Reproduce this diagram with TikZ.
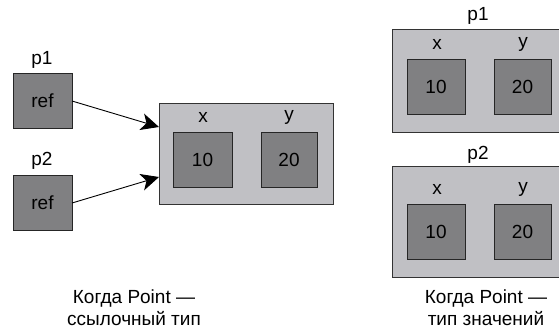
\documentclass[tikz,border=0pt]{standalone}
\usepackage{fontspec}
\setmainfont{Liberation Sans}
\usetikzlibrary{arrows.meta}
\definecolor{outerc}{RGB}{192,192,196}
\definecolor{innerc}{RGB}{128,128,130}
\begin{document}
\begin{tikzpicture}[x=1pt,y=-1pt,
  txt/.style={inner sep=0pt,font=\fontsize{19}{22}\selectfont},
  outerbox/.style={draw=black!80,fill=outerc,line width=0.9pt},
  innerbox/.style={draw=black!85,fill=innerc,line width=0.9pt},
  arr/.style={-{Stealth[length=18pt,width=17pt,inset=5pt]},line width=0.9pt}]
\useasboundingbox (0,0) rectangle (559,332);
% left references
\node[txt] (lp1) at (42,60) {p1};
\draw[innerbox] (13,73) rectangle (72,128);
\node[txt] (lr1) at (42.5,100.5) {ref};
\node[txt] (lp2) at (42,161) {p2};
\draw[innerbox] (13,175) rectangle (72,230);
\node[txt] (lr2) at (42.5,202.5) {ref};
\coordinate (s1) at (72,101);
\coordinate (s2) at (72,203);
% middle object
\draw[outerbox] (159,103) rectangle (333,204);
\coordinate (t1) at (159,127);
\coordinate (t2) at (159,177);
\node[txt] (mx) at (203,117) {x};
\node[txt] (my) at (289,117) {y};
\draw[innerbox] (173,132) rectangle (232,187);
\draw[innerbox] (261,132) rectangle (317,187);
\node[txt] (m10) at (202.5,159.5) {10};
\node[txt] (m20) at (289,159.5) {20};
\draw[arr] (s1) -- (t1);
\draw[arr] (s2) -- (t2);
% right objects
\node[txt] (rp1) at (478,16) {p1};
\draw[outerbox] (392,29) rectangle (560,132);
\node[txt] (rx1) at (437,44) {x};
\node[txt] (ry1) at (523,44) {y};
\draw[innerbox] (407,59) rectangle (465,114);
\draw[innerbox] (494,59) rectangle (551,114);
\node[txt] (r110) at (436,86.5) {10};
\node[txt] (r120) at (522.5,86.5) {20};
\node[txt] (rp2) at (478,155) {p2};
\draw[outerbox] (392,166) rectangle (560,277);
\node[txt] (rx2) at (437,189) {x};
\node[txt] (ry2) at (523,189) {y};
\draw[innerbox] (407,204) rectangle (465,259);
\draw[innerbox] (494,204) rectangle (551,259);
\node[txt] (r210) at (436,231.5) {10};
\node[txt] (r220) at (522.5,231.5) {20};
% captions
\node[txt,align=center] (c1) at (134,308) {Когда Point —\\ссылочный тип};
\node[txt,align=center] (c2) at (486,308) {Когда Point —\\тип значений};
\end{tikzpicture}
\end{document}
